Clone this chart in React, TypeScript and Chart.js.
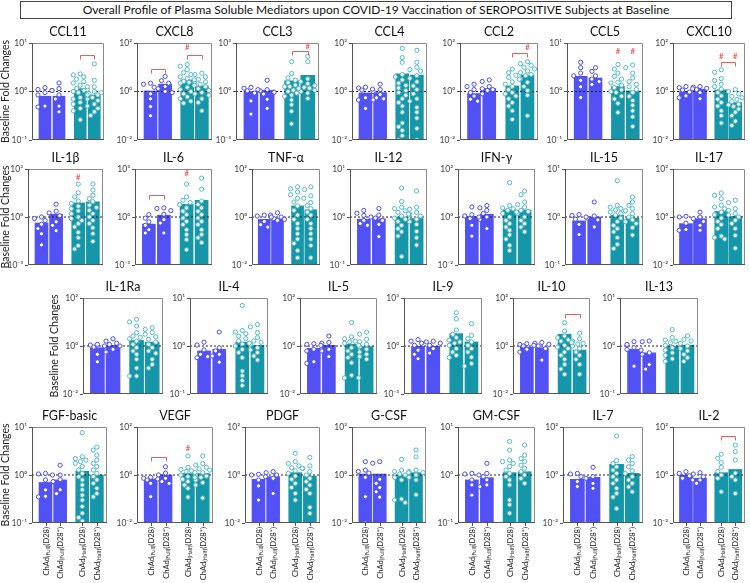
import React, { useEffect, useRef } from 'react';
import { Chart, registerables } from 'chart.js';
Chart.register(...registerables);

const W = 750;
const H = 583;
const FONT = 'Lato, "Liberation Sans", Arial, sans-serif';

const chartTitle = 'Overall Profile of Plasma Soluble Mediators upon COVID-19 Vaccination of SEROPOSITIVE Subjects at Baseline';
const yAxisTitle = 'Baseline Fold Changes';

const panelNames = ['CCL11', 'CXCL8', 'CCL3', 'CCL4', 'CCL2', 'CCL5', 'CXCL10',
  'IL-1β', 'IL-6', 'TNF-α', 'IL-12', 'IFN-γ', 'IL-15', 'IL-17',
  'IL-1Ra', 'IL-4', 'IL-5', 'IL-9', 'IL-10', 'IL-13',
  'FGF-basic', 'VEGF', 'PDGF', 'G-CSF', 'GM-CSF', 'IL-7', 'IL-2'];

const yMaxVals = [10, 100, 1000, 100, 100, 10, 100,
  1000, 1000, 100, 10, 100, 10, 100,
  100, 10, 100, 1000, 100, 10,
  10, 100, 100, 100, 10, 100, 100];
const yMinVals = [0.1, 0.01, 0.001, 0.01, 0.01, 0.1, 0.01,
  0.001, 0.001, 0.01, 0.1, 0.01, 0.1, 0.01,
  0.01, 0.1, 0.01, 0.001, 0.01, 0.1,
  0.1, 0.01, 0.01, 0.01, 0.1, 0.01, 0.01];

const groupMain = ['ChAd', 'ChAd', 'ChAd', 'ChAd'];
const groupSub = ['(Full)', '(Full)', '(Half)', '(Half)'];
const groupDay = ['(D28)', '(D28*)', '(D28)', '(D28*)'];

// bar heights per group (Full D28, Full D28*, Half D28, Half D28*)
const barFullD28 = [0.8, 1.05, 1.0, 0.87, 0.82, 2.05, 1.0, 0.42, 0.36, 0.8, 0.9, 1.05, 0.83, 0.53, 0.85, 0.79, 0.8, 0.95, 0.9, 0.85, 0.7, 0.68, 0.66, 1.1, 0.79, 0.66, 1.0];
const barFullD28s = [0.8, 2.0, 1.2, 0.9, 1.33, 1.9, 1.25, 1.5, 1.3, 0.8, 0.92, 1.3, 1.0, 0.85, 1.07, 0.85, 1.07, 0.95, 0.85, 0.72, 0.79, 1.0, 0.85, 1.1, 0.88, 0.8, 0.73];
const barHalfD28 = [1.15, 3.0, 4.6, 5.3, 1.7, 1.27, 1.17, 7.6, 6.1, 2.9, 1.0, 2.0, 1.08, 1.7, 1.7, 1.2, 1.17, 5.9, 3.1, 1.0, 1.2, 1.15, 1.25, 1.0, 1.12, 2.8, 1.25];
const barHalfD28s = [0.85, 1.7, 10, 4.8, 4.7, 1.03, 0.35, 8.8, 11, 2.0, 0.93, 1.95, 0.95, 1.06, 1.45, 1.03, 0.94, 1.8, 0.68, 1.04, 1.0, 1.15, 0.9, 1.25, 1.17, 1.17, 1.7];

const ptsFullD28 = [
  [1.1, 1.05, 1.2, 0.95, 0.85, 0.5, 0.48],
  [2.2, 2.0, 1.5, 0.8, 0.5, 0.24, 0.1],
  [1.8, 1.6, 1.3, 1.1, 0.8, 0.26, 0.04],
  [1.5, 1.4, 1.25, 1.15, 0.55, 0.45, 0.2],
  [2.0, 1.6, 1.2, 0.9, 0.65, 0.48, 0.4],
  [4.0, 3.1, 2.4, 2.1, 1.7, 1.25, 0.75],
  [1.6, 1.45, 1.3, 1.15, 0.95, 0.66, 0.55],
  [1.0, 0.8, 0.6, 0.35, 0.19, 0.09, 0.018],
  [1.4, 0.85, 0.5, 0.3, 0.16, 0.1],
  [1.2, 1.1, 1.0, 0.65, 0.48, 0.38],
  [1.37, 1.2, 1.08, 1.0, 0.85, 0.73, 0.67],
  [2.6, 1.25, 1.1, 1.0, 0.85, 0.45, 0.16],
  [1.12, 1.08, 1.0, 0.9, 0.7, 0.43],
  [1.07, 1.0, 0.55, 0.3, 0.28],
  [1.17, 1.1, 1.0, 0.9, 0.45, 0.22],
  [1.2, 1.05, 0.83, 0.67, 0.6, 0.57],
  [1.25, 1.17, 1.07, 0.73, 0.62, 0.22, 0.19],
  [2.5, 2.0, 1.5, 1.1, 0.55, 0.3, 0.16],
  [1.25, 1.17, 1.07, 1.0, 0.73, 0.56],
  [1.23, 1.08, 0.92, 0.85, 0.82, 0.38],
  [1.08, 1.05, 1.0, 0.79, 0.49, 0.36, 0.35],
  [0.8, 0.73, 0.68, 0.62, 0.45, 0.125],
  [1.07, 1.0, 0.85, 0.62, 0.35, 0.09],
  [3.6, 1.6, 1.4, 1.2, 0.8, 0.125, 0.01],
  [1.08, 1.05, 1.0, 0.79, 0.62, 0.38],
  [1.17, 1.1, 0.85, 0.53, 0.33],
  [1.38, 1.17, 0.92, 0.73, 0.62],
];
const ptsFullD28s = [
  [1.5, 1.15, 1.05, 0.85, 0.7, 0.5, 0.38],
  [4.2, 2.8, 2.2, 1.6, 1.3, 1.0, 0.9],
  [5, 1.3, 1.1, 0.7, 0.33, 0.09, 0.9],
  [2.0, 1.2, 1.0, 0.75, 0.55, 0.5, 0.45],
  [3.0, 2.6, 1.6, 1.3, 1.1, 1.2, 0.8],
  [3.1, 2.6, 2.1, 1.8, 1.4, 1.6],
  [1.6, 1.5, 1.35, 1.2, 0.9, 0.5],
  [6.3, 2.3, 1.8, 1.2, 0.5, 0.3, 0.14],
  [3.7, 3.4, 2.5, 1.5, 0.68, 0.42, 0.1],
  [1.5, 1.2, 1.0, 0.85, 0.8, 0.72],
  [1.5, 1.1, 0.95, 0.85, 0.7, 0.39],
  [3.0, 2.4, 1.9, 1.4, 1.0, 0.8, 0.33],
  [2.05, 1.05, 0.95, 0.87, 0.62],
  [1.6, 1.0, 0.85, 0.65, 0.45, 0.28],
  [2.0, 1.6, 1.3, 1.17, 1.0, 0.73, 0.56],
  [1.95, 0.92, 0.79, 0.67, 0.46, 0.62],
  [2.6, 1.4, 1.3, 0.73, 0.62, 0.36],
  [2.0, 1.8, 1.5, 1.1, 0.68, 0.36],
  [1.4, 1.3, 1.17, 1.0, 0.78, 0.26],
  [1.27, 1.23, 0.67, 0.41, 0.33, 0.72],
  [1.6, 1.0, 0.8, 0.73, 0.49, 0.41],
  [2.2, 1.2, 1.0, 0.73, 0.53, 0.45],
  [1.38, 1.25, 1.0, 0.73, 0.17],
  [3.6, 3.1, 0.66, 0.45, 0.3, 0.2, 0.12],
  [1.75, 1.08, 0.92, 0.79, 0.62, 0.57],
  [2.1, 0.85, 0.73, 0.45, 0.28],
  [1.25, 1.1, 0.85, 0.62, 0.45],
];
const ptsHalfD28 = [
  [2.3, 2.2, 2.0, 1.8, 1.6, 1.5, 1.35, 1.25, 1.15, 1.0, 0.95, 0.85, 0.75, 0.7, 0.6, 0.55, 0.45, 0.4, 0.26, 1.05],
  [13, 11, 8, 6, 5, 4, 3.5, 3, 2.6, 2.2, 1.8, 1.5, 1.2, 1.0, 0.8, 0.6, 0.5, 0.4, 0.33, 2.4],
  [70, 13, 7, 5, 3.5, 2.5, 2, 1.5, 1.2, 1, 0.8, 0.5, 0.3, 0.15, 0.06, 0.01, 0.6, 2],
  [60, 25, 16, 5, 4, 3, 2.2, 1.8, 1.4, 1.1, 0.9, 0.7, 0.5, 0.35, 0.25, 0.14, 0.05, 0.035, 0.025, 0.015, 0.01],
  [8.4, 6, 4.7, 3.8, 3.2, 2.5, 2.0, 1.6, 1.2, 0.9, 0.65, 0.5, 0.35, 0.25, 0.16, 0.07, 0.8],
  [3.6, 2.9, 2.4, 2.05, 1.8, 1.55, 1.35, 1.2, 1.08, 0.95, 0.8, 0.7, 0.57, 0.37, 1.5, 1.0],
  [7.9, 6.2, 3.4, 2.8, 2, 1.6, 1.25, 0.9, 0.66, 0.48, 0.35, 0.25, 0.16, 0.1, 0.05],
  [115, 33, 18, 10, 7, 4.7, 3.3, 2.4, 1.6, 1.0, 0.6, 0.38, 0.24, 0.11, 0.05, 0.016, 0.01, 0.8],
  [115, 18, 11, 8, 6, 3.7, 2.3, 1.4, 0.86, 0.53, 0.33, 0.16, 0.08, 0.038, 0.009],
  [18, 14, 11, 6, 4.2, 2.9, 1.9, 1.2, 0.8, 0.53, 0.33, 0.2, 0.12, 0.08, 0.04, 0.02, 15, 8.5],
  [4.0, 2.1, 1.6, 1.5, 1.35, 1.25, 1.15, 1.05, 0.9, 0.8, 0.67, 0.57, 0.49, 0.4, 0.15, 0.95],
  [27, 3, 2.4, 1.9, 1.6, 1.4, 1.0, 0.72, 0.53, 0.38, 0.28, 0.18, 0.12, 0.066, 0.04, 2.2],
  [5.7, 1.75, 1.6, 1.5, 1.4, 1.27, 1.1, 0.95, 0.8, 0.67, 0.57, 0.49, 0.37, 0.27, 0.22, 1.2],
  [10, 8, 5.8, 3.1, 2.2, 1.6, 1.25, 0.9, 0.65, 0.48, 0.33, 0.16, 0.12, 0.14, 2.6],
  [13, 10, 6.8, 3.6, 2.6, 2.0, 1.6, 1.17, 0.85, 0.62, 0.45, 0.28, 0.12, 0.056, 0.056, 2.3],
  [7, 2.1, 1.95, 1.8, 1.6, 1.42, 1.27, 1.14, 1.0, 0.85, 0.73, 0.57, 0.3, 0.24, 0.19, 0.15, 1.1],
  [9.4, 2.4, 2.0, 1.6, 1.3, 1.07, 0.85, 0.62, 0.45, 0.33, 0.2, 0.047, 0.047, 0.06, 1.5],
  [120, 50, 10, 5.3, 3.3, 2.3, 1.5, 1.1, 0.68, 0.42, 0.26, 0.19, 1.8],
  [9.4, 4.2, 2.6, 2.2, 1.8, 1.4, 1.07, 0.78, 0.56, 0.41, 0.28, 0.17, 0.11, 0.066, 1.6, 0.9],
  [2.2, 1.5, 1.33, 1.17, 1.03, 0.92, 0.82, 0.72, 0.64, 0.54, 0.48, 1.25],
  [7.6, 2.4, 2.2, 2.05, 1.9, 1.75, 1.5, 1.27, 1.08, 0.92, 0.79, 0.62, 0.49, 0.38, 0.3, 0.22, 0.16, 0.13, 0.11],
  [6.2, 2.1, 1.7, 1.5, 1.25, 1.0, 0.85, 0.66, 0.53, 0.38, 0.28, 0.12, 1.4, 0.8],
  [8, 3.6, 3.0, 2.4, 1.9, 1.5, 1.17, 0.9, 0.66, 0.45, 0.3, 0.17, 0.09, 2.0],
  [4.5, 1.6, 1.4, 1.25, 1.1, 1.0, 0.8, 0.62, 0.1, 0.09, 0.07],
  [5, 3.3, 2.05, 1.75, 1.5, 1.27, 1.08, 0.92, 0.79, 0.62, 0.3, 0.24, 0.16, 1.9],
  [42, 4, 3, 2.2, 1.6, 1.17, 0.85, 0.62, 0.45, 0.28, 0.17, 0.12, 0.04],
  [7.4, 5, 3.3, 2.1, 1.4, 1.0, 0.73, 0.2],
];
const ptsHalfD28s = [
  [3.7, 1.7, 1.25, 1.1, 1.0, 0.95, 0.85, 0.75, 0.65, 0.55, 0.5, 0.45, 0.38, 0.32, 0.9, 0.7],
  [5.7, 5, 4, 3.2, 2.5, 2.0, 1.6, 1.3, 1.1, 0.9, 0.7, 0.5, 0.35, 0.16, 2.2, 0.8],
  [150, 70, 6, 4, 3, 2.3, 1.6, 1.2, 0.8, 0.37, 1.8, 1.0],
  [50, 16, 10, 8, 7, 4.5, 3.5, 2.5, 1.7, 1.2, 0.8, 0.5, 0.4, 0.22, 0.14, 0.08, 0.03, 0.01],
  [17, 14, 12, 10, 8.5, 7, 6, 4.5, 3.3, 2.4, 1.6, 1.1, 0.7, 0.1, 5],
  [3.5, 3.1, 2.4, 1.9, 1.6, 1.4, 1.25, 1.1, 0.95, 0.8, 0.65, 0.52, 0.4, 0.3, 0.19],
  [1.2, 1.0, 0.8, 0.62, 0.48, 0.38, 0.3, 0.24, 0.19, 0.14, 0.1, 0.06, 0.04, 0.55, 0.28],
  [115, 48, 23, 14, 9, 5.5, 3.9, 2.6, 1.6, 1.0, 0.6, 0.38, 0.21, 0.09, 0.03],
  [270, 55, 10, 6, 3.7, 2.3, 1.4, 0.86, 0.53, 0.33, 0.16, 0.08, 0.05, 0.025],
  [18, 7.6, 6, 4, 3, 2.2, 1.6, 1.2, 0.8, 0.53, 0.33, 0.2, 0.12, 0.065, 0.02],
  [3.5, 1.6, 1.45, 1.25, 1.05, 0.9, 0.8, 0.7, 0.5, 0.37, 0.26, 1.15],
  [12, 8.5, 4.2, 3.3, 2.6, 1.9, 1.4, 1.0, 0.72, 0.53, 0.38, 0.24, 1.7],
  [2.6, 2.05, 1.75, 1.5, 1.35, 1.17, 1.0, 0.87, 0.73, 0.6, 0.42, 0.8],
  [5, 4, 2.2, 1.9, 1.4, 1.0, 0.73, 0.53, 0.33, 0.17, 0.05, 1.2],
  [5.8, 4.9, 3.6, 3.1, 2.4, 1.9, 1.45, 1.17, 0.85, 0.62, 0.5, 0.28, 0.17, 0.12],
  [2.8, 2.5, 1.9, 1.5, 1.27, 1.08, 0.92, 0.83, 0.73, 0.62, 0.51, 1.2],
  [3.8, 3.1, 1.9, 1.5, 1.17, 0.94, 0.73, 0.56, 0.45, 0.36, 0.28],
  [25, 4.6, 2.9, 1.8, 1.1, 0.68, 0.42, 0.2, 0.08, 0.055],
  [3.4, 2.0, 1.6, 1.3, 1.0, 0.78, 0.56, 0.41, 0.28, 0.17, 0.066, 1.2],
  [1.62, 1.38, 1.27, 1.13, 1.0, 0.88, 0.79, 0.67, 0.57, 0.48],
  [3.8, 3.3, 2.6, 2.05, 1.75, 1.5, 1.27, 1.08, 0.92, 0.79, 0.67, 0.53, 0.41, 0.35],
  [6.2, 3.0, 2.6, 2.1, 1.6, 1.25, 1.0, 0.8, 0.62, 0.48, 0.38, 0.11, 1.8, 0.9],
  [5.4, 2.4, 1.9, 1.38, 1.0, 0.73, 0.53, 0.38, 0.25, 0.17, 0.045, 0.025],
  [11, 5.7, 1.6, 1.25, 1.0, 0.8, 0.62, 0.15, 1.4],
  [4.2, 2.6, 2.2, 1.9, 1.6, 1.38, 1.17, 1.0, 0.85, 0.67],
  [5.8, 4.2, 3.0, 2.2, 1.5, 1.17, 0.85, 0.62, 0.45, 0.32, 0.2],
  [17.6, 9.4, 4.2, 1.2, 0.85, 0.62, 0.17],
];

// significance: [panel, group a, group b, y value]
const brackets = [[0, 2, 3, 5.7], [1, 0, 1, 8.4], [1, 2, 3, 32], [2, 2, 3, 330], [4, 2, 3, 39], [6, 2, 3, 17],
  [8, 0, 1, 23], [18, 2, 3, 21], [21, 0, 1, 5.4], [26, 2, 3, 42]];
// '#' markers: [panel, group, y value]
const hashes = [[1, 2, 62], [2, 3, 620], [4, 3, 62], [5, 2, 6.6], [5, 3, 6.6], [6, 2, 27], [6, 3, 27],
  [7, 2, 300], [8, 2, 500], [21, 2, 13]];

// ---- layout (pixel boxes of each plot area) ----
const rowTop = [43, 169, 298, 427];
const rowBottom = [140, 265, 394, 523];
const panelRow = [0, 0, 0, 0, 0, 0, 0, 1, 1, 1, 1, 1, 1, 1, 2, 2, 2, 2, 2, 2, 3, 3, 3, 3, 3, 3, 3];
const boxLeft = [32, 137, 236, 352, 460, 567, 673, 28, 135, 252, 350, 458, 565, 673, 83, 190, 300, 404, 513, 620, 32, 137, 245, 352, 458, 563, 673];
const boxRight = [104, 212, 319, 427, 538, 643, 748, 103, 212, 320, 427, 535, 643, 748, 163, 268, 377, 482, 590, 698, 107, 213, 320, 426, 535, 643, 748];
const yTitleX = [6, 6, 55, 6];
const groupPos = [0.18, 0.375, 0.67, 0.865];
const YW = 30;

const BLUE = '#5151f6';
const TEAL = '#1597a9';
const BLUE_PT = '#4b4bf0';
const TEAL_PT = '#52bac7';
const RED = '#f05a5a';

const SUP: Record<string, string> = { '-': '⁻', '0': '⁰', '1': '¹', '2': '²', '3': '³', '4': '⁴' };
function powLabel(v: number) {
  const e = Math.round(Math.log10(v));
  return '10' + String(e).split('').map((c) => SUP[c] || c).join('');
}

function swarm(vals: number[], center: number, min: number, max: number, hPx: number, wPx: number) {
  const lmin = Math.log10(min);
  const span = Math.log10(max) - lmin;
  const order = vals.map((_, i) => i).sort((a, b) => vals[b] - vals[a]);
  const placed: { x: number; y: number }[] = [];
  const out: { x: number; y: number }[] = new Array(vals.length);
  const cands = [0, -3.6, 3.6, -7, 7, -1.8, 1.8, -5.3, 5.3];
  for (const i of order) {
    const ypx = ((Math.log10(vals[i]) - lmin) / span) * hPx;
    let best = 0;
    let bestD = -1;
    for (const c of cands) {
      let dmin = Infinity;
      for (const p of placed) {
        const d = Math.hypot(p.x - c, p.y - ypx);
        if (d < dmin) dmin = d;
      }
      if (dmin >= 4.6) { best = c; break; }
      if (dmin > bestD) { bestD = dmin; best = c; }
    }
    placed.push({ x: best, y: ypx });
    out[i] = { x: center + best / wPx, y: vals[i] };
  }
  return out;
}

function makeConfig(p: number): any {
  const row = panelRow[p];
  const L = boxLeft[p], R = boxRight[p], T = rowTop[row], B = rowBottom[row];
  const wPx = R - L, hPx = B - T;
  const min = yMinVals[p], max = yMaxVals[p];
  const bars = [barFullD28[p], barFullD28s[p], barHalfD28[p], barHalfD28s[p]];
  const pts = [ptsFullD28[p], ptsFullD28s[p], ptsHalfD28[p], ptsHalfD28s[p]];
  const barT = Math.round(wPx * 0.172);
  const ptCols = [BLUE_PT, BLUE_PT, TEAL_PT, TEAL_PT];

  const pointSets = pts.map((vals, g) => ({
    type: 'line',
    data: swarm(vals, groupPos[g], min, max, hPx, wPx),
    showLine: false,
    pointRadius: 2.1,
    pointBorderWidth: 1,
    pointBackgroundColor: '#ffffff',
    pointBorderColor: ptCols[g],
    order: 0,
  }));

  const panelPlugin = {
    id: 'panelDeco' + p,
    afterDraw(chart: any) {
      const ctx = chart.ctx;
      const ca = chart.chartArea;
      const xs = chart.scales.x;
      const ys = chart.scales.y;
      ctx.save();
      // frame
      ctx.lineWidth = 1;
      ctx.strokeStyle = '#8a8a8a';
      ctx.beginPath();
      ctx.moveTo(ca.left + 0.5, ca.top + 0.5);
      ctx.lineTo(ca.right - 0.5, ca.top + 0.5);
      ctx.lineTo(ca.right - 0.5, ca.bottom - 0.5);
      ctx.stroke();
      ctx.strokeStyle = '#555';
      ctx.beginPath();
      ctx.moveTo(ca.left + 0.5, ca.top);
      ctx.lineTo(ca.left + 0.5, ca.bottom - 0.5);
      ctx.lineTo(ca.right, ca.bottom - 0.5);
      ctx.stroke();
      // panel title
      ctx.fillStyle = '#111';
      ctx.font = `12.5px ${FONT}`;
      ctx.textAlign = 'center';
      ctx.textBaseline = 'middle';
      ctx.fillText(panelNames[p], (ca.left + ca.right) / 2, ca.top - 11);
      // brackets
      ctx.lineWidth = 1;
      brackets.filter((b) => b[0] === p).forEach((b) => {
        const x1 = Math.round(xs.getPixelForValue(groupPos[b[1]])) + 0.5;
        const x2 = Math.round(xs.getPixelForValue(groupPos[b[2]])) + 0.5;
        const y = Math.round(ys.getPixelForValue(b[3])) + 0.5;
        ctx.strokeStyle = RED;
        ctx.beginPath();
        ctx.moveTo(x1, y + 4);
        ctx.lineTo(x1, y);
        ctx.lineTo(x2, y);
        ctx.lineTo(x2, y + 4);
        ctx.stroke();
      });
      ctx.fillStyle = RED;
      ctx.font = `bold 7.5px ${FONT}`;
      hashes.filter((h) => h[0] === p).forEach((h) => {
        ctx.fillText('#', xs.getPixelForValue(groupPos[h[1]]), ys.getPixelForValue(h[2]));
      });
      // y title on first panel of each row
      const firstOfRow = panelRow.indexOf(row) === p;
      if (firstOfRow) {
        ctx.save();
        ctx.translate(yTitleX[row], (ca.top + ca.bottom) / 2);
        ctx.rotate(-Math.PI / 2);
        ctx.fillStyle = '#222';
        ctx.font = `10.5px ${FONT}`;
        ctx.textAlign = 'center';
        ctx.textBaseline = 'middle';
        ctx.fillText(yAxisTitle, 0, 0);
        ctx.restore();
      }
      // x labels on bottom row
      if (row === 3) {
        const mainF = `7.6px ${FONT}`;
        const subF = `5.4px ${FONT}`;
        for (let g = 0; g < 4; g++) {
          const x = Math.round(xs.getPixelForValue(groupPos[g])) + 0.5;
          ctx.strokeStyle = '#555';
          ctx.beginPath();
          ctx.moveTo(x, ca.bottom);
          ctx.lineTo(x, ca.bottom + 3);
          ctx.stroke();
          ctx.save();
          ctx.translate(x, ca.bottom + 4);
          ctx.rotate(-Math.PI / 2);
          ctx.fillStyle = '#222';
          ctx.textBaseline = 'middle';
          ctx.textAlign = 'left';
          ctx.font = mainF;
          const w1 = ctx.measureText(groupMain[g]).width;
          const w3 = ctx.measureText(groupDay[g]).width;
          ctx.font = subF;
          const w2 = ctx.measureText(groupSub[g]).width;
          let sx = -(w1 + w2 + w3);
          ctx.font = mainF;
          ctx.fillText(groupMain[g], sx, 0);
          sx += w1;
          ctx.font = subF;
          ctx.fillText(groupSub[g], sx, 2);
          sx += w2;
          ctx.font = mainF;
          ctx.fillText(groupDay[g], sx, 0);
          ctx.restore();
        }
      }
      ctx.restore();
    },
  };

  return {
    type: 'bar',
    data: {
      datasets: [
        ...pointSets,
        {
          type: 'line',
          data: [{ x: 0, y: 1 }, { x: 1, y: 1 }],
          borderColor: '#222',
          borderWidth: 1,
          borderDash: [2, 2],
          pointRadius: 0,
          order: 1,
        },
        {
          type: 'bar',
          data: bars.map((v, g) => ({ x: groupPos[g], y: v })),
          backgroundColor: [BLUE, BLUE, TEAL, TEAL],
          barThickness: barT,
          order: 2,
        },
      ],
    },
    options: {
      animation: false,
      responsive: false,
      devicePixelRatio: 1,
      events: [],
      layout: { padding: { left: L - YW, top: T, right: W - R, bottom: H - B } },
      plugins: { legend: { display: false }, tooltip: { enabled: false }, title: { display: false } },
      scales: {
        x: { type: 'linear', min: 0, max: 1, display: false, offset: false },
        y: {
          type: 'logarithmic',
          min,
          max,
          afterFit: (s: any) => { s.width = YW; },
          afterBuildTicks: (s: any) => { s.ticks = [{ value: min }, { value: 1 }, { value: max }]; },
          ticks: {
            callback: (v: any) => powLabel(Number(v)),
            font: { family: FONT, size: 8.5 },
            color: '#444',
            padding: 2,
            autoSkip: false,
            maxRotation: 0,
          },
          grid: { drawOnChartArea: false, drawTicks: true, tickLength: 3, color: '#555' },
          border: { display: false },
        },
      },
    },
    plugins: [panelPlugin],
  };
}

function Panel({ p }: { p: number }) {
  const ref = useRef<HTMLCanvasElement>(null);
  useEffect(() => {
    const chart = new Chart(ref.current as HTMLCanvasElement, makeConfig(p));
    return () => chart.destroy();
  }, [p]);
  return (
    <canvas
      ref={ref}
      width={W}
      height={H}
      style={{ position: 'absolute', left: 0, top: 0, width: W, height: H, pointerEvents: 'none' }}
    />
  );
}

export default function App() {
  return (
    <div style={{ position: 'absolute', left: 0, top: 0, width: W, height: H, background: '#fff', fontFamily: FONT, overflow: 'hidden' }}>
      <div
        style={{
          position: 'absolute', left: 20, top: 1, width: 712, height: 18, boxSizing: 'border-box',
          border: '1px solid #444', fontSize: 12, lineHeight: '16px', textAlign: 'center', color: '#111',
        }}
      >
        {chartTitle}
      </div>
      {panelNames.map((_, p) => <Panel key={p} p={p} />)}
    </div>
  );
}
